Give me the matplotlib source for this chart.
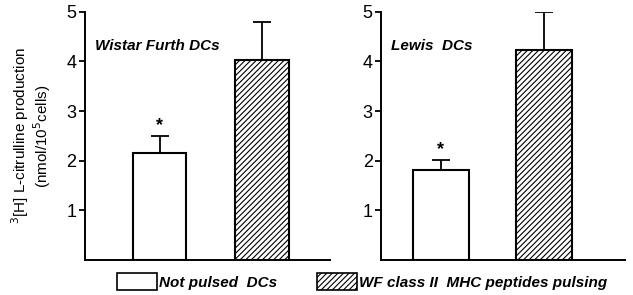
import matplotlib
matplotlib.use("Agg")
import matplotlib.pyplot as plt
from matplotlib.patches import Patch

plt.rcParams['font.family'] = ['Liberation Sans', 'DejaVu Sans']

groups = ["Not pulsed  DCs", "WF class II  MHC peptides pulsing"]
panels = ["Wistar Furth DCs", "Lewis  DCs"]
wf_means = [2.15, 4.03]
wf_errs = [0.34, 0.77]
lewis_means = [1.81, 4.23]
lewis_errs = [0.20, 0.77]
yticks = [1, 2, 3, 4, 5]

fig = plt.figure(figsize=(6.33, 2.95), dpi=100)
axL = fig.add_axes([0.134, 0.119, 0.387, 0.841])
axR = fig.add_axes([0.602, 0.119, 0.385, 0.841])

hatches = ['', '//////']
plt.rcParams['hatch.linewidth'] = 0.8

def draw(ax, means, errs, title, xlim, width):
    xs = [0, 1]
    for i in range(2):
        ax.bar(xs[i], means[i], width=width, color='white', edgecolor='black',
               linewidth=1.5, hatch=hatches[i], zorder=2)
        ax.errorbar(xs[i], means[i], yerr=[[0], [errs[i]]], fmt='none',
                    ecolor='black', elinewidth=1.3, capsize=6.5, capthick=1.3, zorder=1)
    ax.text(xs[0], means[0] + errs[0] + 0.04, '*', ha='center', va='bottom',
            fontsize=13, fontweight='bold')
    ax.set_xlim(*xlim)
    ax.set_ylim(0, 5.0)
    ax.set_yticks(yticks)
    ax.set_xticks([])
    for s in ['top', 'right']:
        ax.spines[s].set_visible(False)
    for s in ['left', 'bottom']:
        ax.spines[s].set_linewidth(1.4)
    ax.tick_params(axis='y', direction='out', length=4, width=1.3, labelsize=13, pad=2)
    ax.text(0.04, 4.31, title, transform=ax.get_yaxis_transform(), ha='left', va='center',
            fontsize=11, fontweight='bold', fontstyle='italic')

draw(axL, wf_means, wf_errs, panels[0], (-0.73, 1.66), 0.52)
draw(axR, lewis_means, lewis_errs, panels[1], (-0.58, 1.78), 0.54)

axL.set_ylabel('$^{3}$[H] L-citrulline production\n(nmol/10$^{5}$cells)', fontsize=11,
               linespacing=1.0, labelpad=10)

handles = [Patch(facecolor='white', edgecolor='black', linewidth=1.2, hatch=h) for h in hatches]
fig.legend(handles, groups, loc='lower center', bbox_to_anchor=(0.572, -0.03), ncol=2,
           frameon=False, handlelength=2.6, handleheight=1.35, handletextpad=0.15,
           columnspacing=2.6, prop={'weight': 'bold', 'style': 'italic', 'size': 11})

fig.savefig('out.png', dpi=100)
